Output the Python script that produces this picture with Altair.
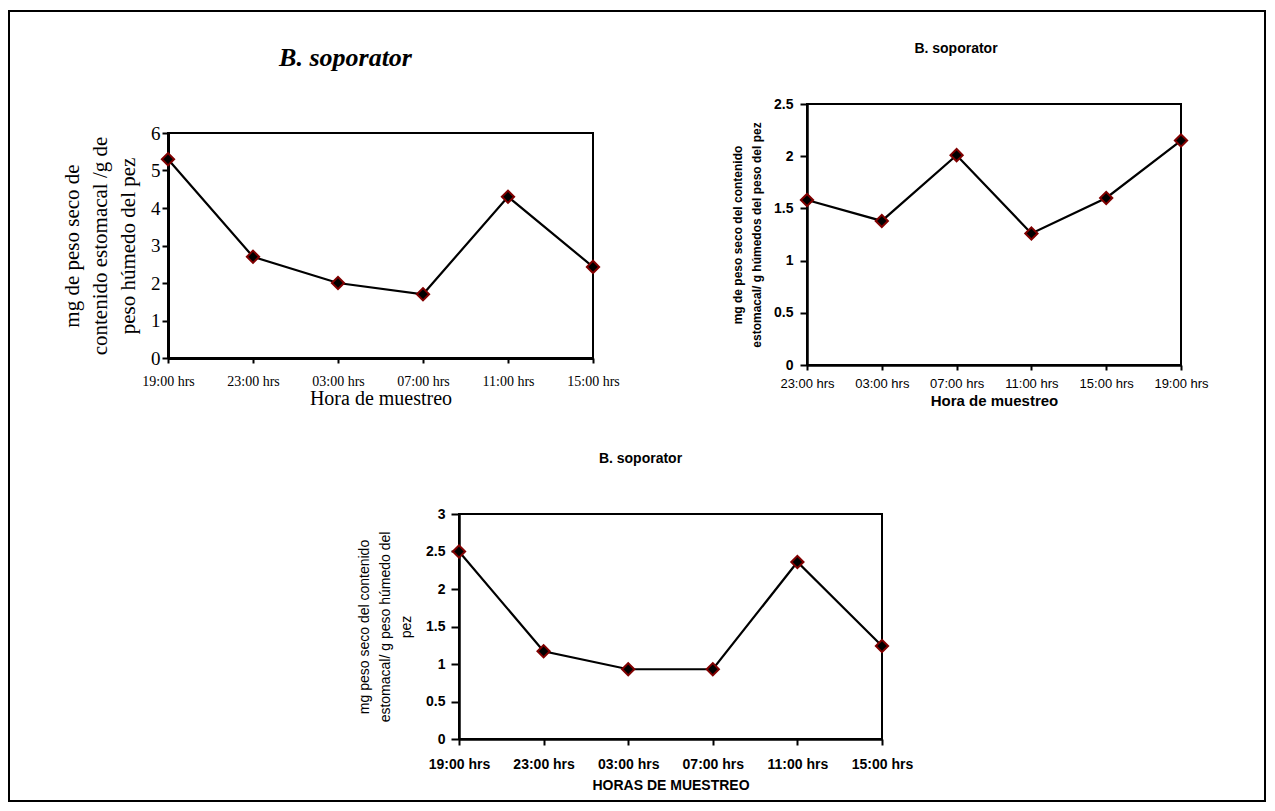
import altair as alt
import pandas as pd

# ---------------- data ----------------
horas_a = ["19:00 hrs", "23:00 hrs", "03:00 hrs", "07:00 hrs", "11:00 hrs", "15:00 hrs"]
valores_a = [5.3, 2.7, 2.0, 1.7, 4.3, 2.43]
ticks_a = [0, 1, 2, 3, 4, 5, 6]

horas_b = ["23:00 hrs", "03:00 hrs", "07:00 hrs", "11:00 hrs", "15:00 hrs", "19:00 hrs"]
valores_b = [1.58, 1.38, 2.01, 1.26, 1.60, 2.15]
ticks_b = [0, 0.5, 1, 1.5, 2, 2.5]

horas_c = ["19:00 hrs", "23:00 hrs", "03:00 hrs", "07:00 hrs", "11:00 hrs", "15:00 hrs"]
valores_c = [2.5, 1.17, 0.93, 0.93, 2.36, 1.24]
ticks_c = [0, 0.5, 1, 1.5, 2, 2.5, 3]

titulo = "B. soporator"
ytitle_a = ["mg de peso seco de", "contenido estomacal /g de", "peso húmedo del pez"]
ytitle_b = ["mg de peso  seco del contenido", "estomacal/ g húmedos del peso del pez"]
ytitle_c = ["mg peso seco del contenido", "estomacal/ g peso húmedo del", "pez"]
xtitle_a = "Hora de muestreo"
xtitle_b = "Hora de muestreo"
xtitle_c = "HORAS DE MUESTREO"

SERIF = "Liberation Serif"
SANS = "Liberation Sans"
MARKER_STROKE = "#800000"


def panel(horas, valores, ymax, xaxis, yaxis, width, height, title,
          yrange=None, xrange=None, extra=None):
    df = pd.DataFrame({"hora": horas, "valor": valores})
    if xrange is not None:
        xs = alt.Scale(type="point", domain=horas, padding=0, range=xrange)
    else:
        xs = alt.Scale(type="point", domain=horas, padding=0)
    if yrange is not None:
        ys = alt.Scale(domain=[0, ymax], nice=False, range=yrange)
    else:
        ys = alt.Scale(domain=[0, ymax], nice=False)
    x = alt.X("hora:N", scale=xs, axis=xaxis)
    y = alt.Y("valor:Q", scale=ys, axis=yaxis)
    frame = alt.Chart(pd.DataFrame({"f": [0]})).mark_rect(
        fillOpacity=0, stroke="black", strokeWidth=2
    ).encode(
        x=alt.XDatum(horas[0], type="nominal", scale=xs, axis=xaxis),
        x2=alt.X2Datum(horas[-1]),
        y=alt.YDatum(0, type="quantitative", scale=ys, axis=yaxis),
        y2=alt.Y2Datum(ymax),
    )
    base = alt.Chart(df)
    line = base.mark_line(color="black", strokeWidth=2.2).encode(x=x, y=y)
    pts = base.mark_point(
        shape="diamond", filled=True, fill="black", stroke=MARKER_STROKE,
        strokeWidth=2, size=150, opacity=1
    ).encode(x=x, y=y)
    layers = [frame, line, pts]
    if extra is not None:
        layers.append(extra)
    return alt.layer(*layers).properties(width=width, height=height, title=title)


common_axis = dict(grid=False, domainColor="black", tickColor="black", labelColor="black",
                   titleColor="black")

# ---- panel A (serif) ----
ax_a_x = alt.Axis(labelAngle=0, labelFont=SERIF, labelFontSize=14, labelPadding=11,
                  tickSize=5, tickWidth=2, domainWidth=3, labelOverlap=False,
                  title=xtitle_a, titleFont=SERIF, titleFontSize=20, titleFontWeight="normal",
                  titleBaseline="middle", titleY=40, **common_axis)
ax_a_y = alt.Axis(values=ticks_a, format="~g", labelFont=SERIF, labelFontSize=19, labelPadding=2,
                  tickSize=6, tickWidth=2, domainWidth=3,
                  title=ytitle_a, titleFont=SERIF, titleFontSize=21, titleFontWeight="normal",
                  titleLineHeight=28, titleBaseline="middle", titleX=-96, **common_axis)
t_a = alt.TitleParams(text=titulo, font=SERIF, fontSize=26, fontWeight="bold", fontStyle="italic",
                      color="black", anchor="middle", frame="group", offset=0,
                      baseline="alphabetic", dx=-35, dy=-12)
pA = panel(horas_a, valores_a, 6, ax_a_x, ax_a_y, 425, 254, t_a, yrange=[254, 29])

# ---- panel B (sans) ----
border = alt.Chart(pd.DataFrame({"b": [0]})).mark_rect(
    fillOpacity=0, stroke="black", strokeWidth=2
).encode(x=alt.value(-798), x2=alt.value(458), y=alt.value(-93), y2=alt.value(697))

ax_b_x = alt.Axis(labelAngle=0, labelFont=SANS, labelFontSize=13, labelPadding=7,
                  tickSize=5, tickWidth=2, domainWidth=2.5, labelOverlap=False,
                  title=xtitle_b, titleFont=SANS, titleFontSize=15, titleFontWeight="bold",
                  titleBaseline="middle", titleY=35, **common_axis)
ax_b_y = alt.Axis(values=ticks_b, format="~g", labelFont=SANS, labelFontSize=14,
                  labelFontWeight="bold", labelPadding=7, tickSize=7, tickWidth=2, domainWidth=2.5,
                  title=ytitle_b, titleFont=SANS, titleFontSize=12, titleFontWeight="bold",
                  titleLineHeight=19, titleBaseline="middle", titleX=-70, **common_axis)
t_b = alt.TitleParams(text=titulo, font=SANS, fontSize=14, fontWeight="bold", color="black",
                      anchor="middle", frame="group", offset=0, baseline="alphabetic",
                      dx=-38, dy=57)
pB = panel(horas_b, valores_b, 2.5, ax_b_x, ax_b_y, 374, 261, t_b, extra=border)

# ---- panel C (sans) ----
ax_c_x = alt.Axis(labelAngle=0, labelFont=SANS, labelFontSize=14, labelFontWeight="bold",
                  labelPadding=12, tickSize=6, tickWidth=2, domainWidth=2.5, labelOverlap=False,
                  title=xtitle_c, titleFont=SANS, titleFontSize=14, titleFontWeight="bold",
                  titleBaseline="middle", titleY=46, titleX=-136.5, **common_axis)
ax_c_y = alt.Axis(values=ticks_c, format="~g", labelFont=SANS, labelFontSize=14,
                  labelFontWeight="bold", labelPadding=6, tickSize=8, tickWidth=2, domainWidth=2.5,
                  offset=348,
                  title=ytitle_c, titleFont=SANS, titleFontSize=14, titleFontWeight="normal",
                  titleLineHeight=21, titleBaseline="middle", titleX=-95, **common_axis)
t_c = alt.TitleParams(text=titulo, font=SANS, fontSize=14, fontWeight="bold", color="black",
                      anchor="middle", frame="group", offset=0, baseline="alphabetic",
                      dx=-204, dy=-30)
pC = panel(horas_c, valores_c, 3, ax_c_x, ax_c_y, 75, 225, t_c, xrange=[-348, 75])

spacer = alt.Chart(pd.DataFrame({"s": [0]})).mark_point(opacity=0).encode(
    x=alt.value(0), y=alt.value(0)
).properties(width=77, height=10)

chart = alt.concat(
    pA, pB, spacer, pC, columns=2, align="none", bounds="flush",
    spacing={"row": 149, "column": 214}
).properties(
    padding={"left": 0, "top": 2, "right": 0, "bottom": 0},
    background="white",
).configure_view(strokeOpacity=0)

chart.save("out.html", embed_options={"renderer": "svg", "actions": False})
